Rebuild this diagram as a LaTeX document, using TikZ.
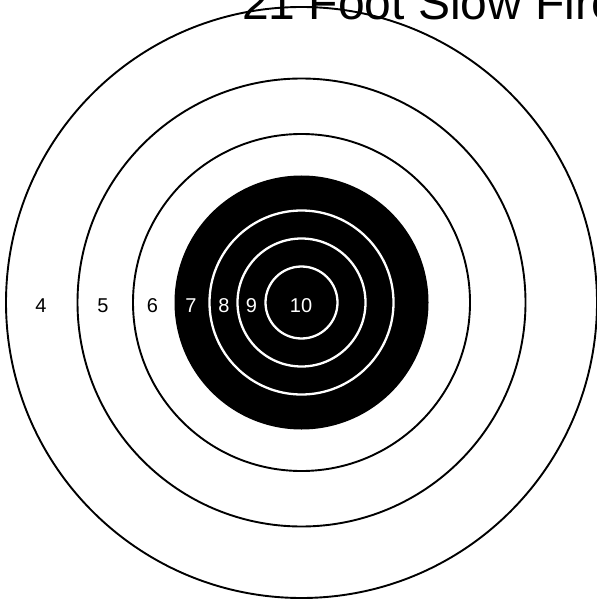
\documentclass[tikz,border=0pt]{standalone}
\usepackage{fontspec}
\setmainfont{Liberation Sans}
\begin{document}
\begin{tikzpicture}[x=1pt,y=-1pt,
  blackring/.style={draw=black,line width=1.9pt},
  whitering/.style={draw=white,line width=2.3pt},
  blacklabel/.style={text=black,font=\fontsize{20}{24}\selectfont,inner sep=0pt,anchor=base},
  whitelabel/.style={text=white,font=\fontsize{20}{24}\selectfont,inner sep=0pt,anchor=base},
  titlestyle/.style={text=black,font=\fontsize{48}{52}\selectfont,inner sep=0pt,anchor=base west}]
\useasboundingbox[fill=white] (0,0) rectangle (596,601);
\coordinate (c) at (301.5,302.5);
% outer scoring rings
\draw[blackring] (c) circle[radius=295.5];
\draw[blackring] (c) circle[radius=224];
\draw[blackring] (c) circle[radius=168.5];
% black aiming area
\fill[black] (c) circle[radius=127];
\draw[whitering] (c) circle[radius=92];
\draw[whitering] (c) circle[radius=64];
\draw[whitering] (c) circle[radius=36];
% labels
\node[blacklabel] (l4) at (41,312) {4};
\node[blacklabel] (l5) at (103,312) {5};
\node[blacklabel] (l6) at (152.5,312) {6};
\node[whitelabel] (l7) at (191,312) {7};
\node[whitelabel] (l8) at (224,312) {8};
\node[whitelabel] (l9) at (251.5,312) {9};
\node[whitelabel] (l10) at (301,312) {10};
% title
\node[titlestyle] (title) at (242,20) {21 Foot Slow Fire};
\end{tikzpicture}
\end{document}
